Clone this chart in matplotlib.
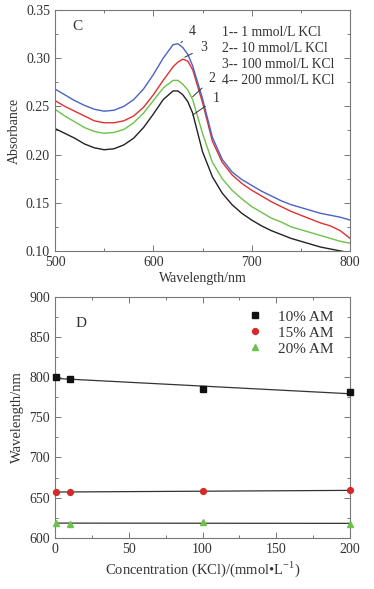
import numpy as np
import matplotlib
matplotlib.use("Agg")
import matplotlib.pyplot as plt
from matplotlib.ticker import MultipleLocator

plt.rcParams['font.family'] = ['Liberation Serif', 'DejaVu Serif']
plt.rcParams['mathtext.fontset'] = 'custom'
plt.rcParams['mathtext.rm'] = 'Liberation Serif'

# ---- Panel C data: absorbance spectra ----
wavelength = [500, 510, 520, 530, 540, 550, 560, 570, 580, 590, 600, 610, 620, 625, 630, 635,
              640, 650, 660, 670, 680, 690, 700, 710, 720, 730, 740, 750, 760, 770, 780, 790, 800]
abs_1mM = [0.227, 0.222, 0.217, 0.211, 0.207, 0.205, 0.206, 0.210, 0.217, 0.228, 0.242, 0.257, 0.266, 0.266, 0.262, 0.255,
           0.243, 0.203, 0.177, 0.160, 0.148, 0.139, 0.132, 0.126, 0.121, 0.117, 0.113, 0.110, 0.107, 0.104, 0.102, 0.100, 0.098]
abs_10mM = [0.247, 0.240, 0.234, 0.228, 0.224, 0.222, 0.223, 0.226, 0.233, 0.243, 0.256, 0.269, 0.277, 0.277, 0.273, 0.267,
            0.257, 0.222, 0.192, 0.175, 0.163, 0.154, 0.146, 0.140, 0.134, 0.130, 0.125, 0.122, 0.119, 0.116, 0.113, 0.110, 0.108]
abs_100mM = [0.256, 0.250, 0.245, 0.240, 0.235, 0.233, 0.233, 0.235, 0.240, 0.249, 0.262, 0.277, 0.291, 0.296, 0.299, 0.297,
             0.288, 0.254, 0.214, 0.192, 0.179, 0.170, 0.163, 0.157, 0.151, 0.146, 0.141, 0.137, 0.133, 0.129, 0.126, 0.121, 0.113]
abs_200mM = [0.268, 0.262, 0.256, 0.251, 0.247, 0.245, 0.246, 0.250, 0.257, 0.268, 0.283, 0.300, 0.314, 0.315, 0.311, 0.304,
             0.292, 0.258, 0.218, 0.195, 0.182, 0.174, 0.168, 0.162, 0.157, 0.152, 0.148, 0.145, 0.142, 0.139, 0.137, 0.135, 0.132]
spec_labels = ['1-- 1 mmol/L KCl', '2-- 10 mmol/L KCl', '3-- 100 mmol/L KCl', '4-- 200 mmol/L KCl']
curve_ids = ['1', '2', '3', '4']

# ---- Panel D data: peak wavelength vs KCl ----
conc = [1, 10, 100, 200]
peak_10AM = [800, 797.5, 785.5, 781]
peak_15AM = [657, 657, 658, 659]
peak_20AM = [618, 617.5, 620, 617]
series_labels = ['10% AM', '15% AM', '20% AM']

fig = plt.figure(figsize=(3.74, 5.89), dpi=100)
axC = fig.add_axes([0.147, 0.574, 0.789, 0.409])
axD = fig.add_axes([0.147, 0.087, 0.789, 0.409])

spine_col = '#777777'
txt_col = '#333333'

def style(ax):
    for s in ax.spines.values():
        s.set_color(spine_col)
        s.set_linewidth(0.8)
    ax.tick_params(which='both', direction='in', top=True, right=True,
                   colors=spine_col, labelcolor=txt_col, labelsize=10, width=0.7)
    ax.tick_params(which='major', length=4)
    ax.tick_params(which='minor', length=2.5)

colors = ['#222222', '#6cc24a', '#e03030', '#4a62c4']
for y, c in zip([abs_1mM, abs_10mM, abs_100mM, abs_200mM], colors):
    axC.plot(wavelength, y, color=c, lw=1.0)
axC.set_xlim(500, 800)
axC.set_ylim(0.10, 0.35)
axC.xaxis.set_major_locator(MultipleLocator(100))
axC.xaxis.set_minor_locator(MultipleLocator(50))
axC.yaxis.set_major_locator(MultipleLocator(0.05))
axC.yaxis.set_minor_locator(MultipleLocator(0.025))
axC.yaxis.set_major_formatter(matplotlib.ticker.FormatStrFormatter('%.2f'))
style(axC)
axC.set_xlabel('Wavelength/nm', fontsize=10, color=txt_col, labelpad=2)
axC.set_ylabel('Absorbance', fontsize=10, color=txt_col, labelpad=4)
axC.text(0.06, 0.93, 'C', transform=axC.transAxes, fontsize=11, color=txt_col, va='center')
for i, lab in enumerate(spec_labels):
    axC.text(0.567, 0.907 - i * 0.067, lab, transform=axC.transAxes, fontsize=9.8,
             color=txt_col, va='center')
# curve number annotations
ann = [((640, 0.241), (664, 0.258)), ((640, 0.260), (660, 0.279)),
       ((632, 0.301), (651, 0.311)), ((628, 0.316), (640, 0.328))]
for cid, (p, t) in zip(curve_ids, ann):
    axC.annotate(cid, xy=p, xytext=t, fontsize=10, color=txt_col, ha='center', va='center',
                 arrowprops=dict(arrowstyle='-', color='#333333', lw=0.7, shrinkA=4, shrinkB=0))

# Panel D
markers = ['s', 'o', '^']
mcolors = ['#111111', '#d42a2a', '#6cc24a']
cx = np.array(conc, dtype=float)
for yv, m, c, lab in zip([peak_10AM, peak_15AM, peak_20AM], markers, mcolors, series_labels):
    axD.plot(conc, yv, m, color=c, ms=4.2, label=lab, clip_on=False, zorder=3)
    k, b = np.polyfit(cx, np.array(yv), 1)
    xs = np.array([0, 200])
    axD.plot(xs, k * xs + b, color='#333333', lw=0.9, zorder=2)
axD.set_xlim(0, 200)
axD.set_ylim(600, 900)
axD.xaxis.set_major_locator(MultipleLocator(50))
axD.xaxis.set_minor_locator(MultipleLocator(25))
axD.yaxis.set_major_locator(MultipleLocator(50))
axD.yaxis.set_minor_locator(MultipleLocator(25))
style(axD)
axD.set_xlabel('Concentration (KCl)/(mmol\u2022L$^{\\mathregular{-1}}$)', fontsize=10.5,
               color=txt_col, labelpad=3)
axD.set_ylabel('Wavelength/nm', fontsize=10.5, color=txt_col, labelpad=4)
axD.text(0.07, 0.89, 'D', transform=axD.transAxes, fontsize=11, color=txt_col, va='center')
leg = axD.legend(loc='upper right', frameon=False, fontsize=11, handletextpad=1.0,
                 labelspacing=0.15, borderaxespad=0.3, handlelength=1.0,
                 bbox_to_anchor=(0.98, 0.99))
for t in leg.get_texts():
    t.set_color(txt_col)

fig.savefig('out.png', dpi=100)
